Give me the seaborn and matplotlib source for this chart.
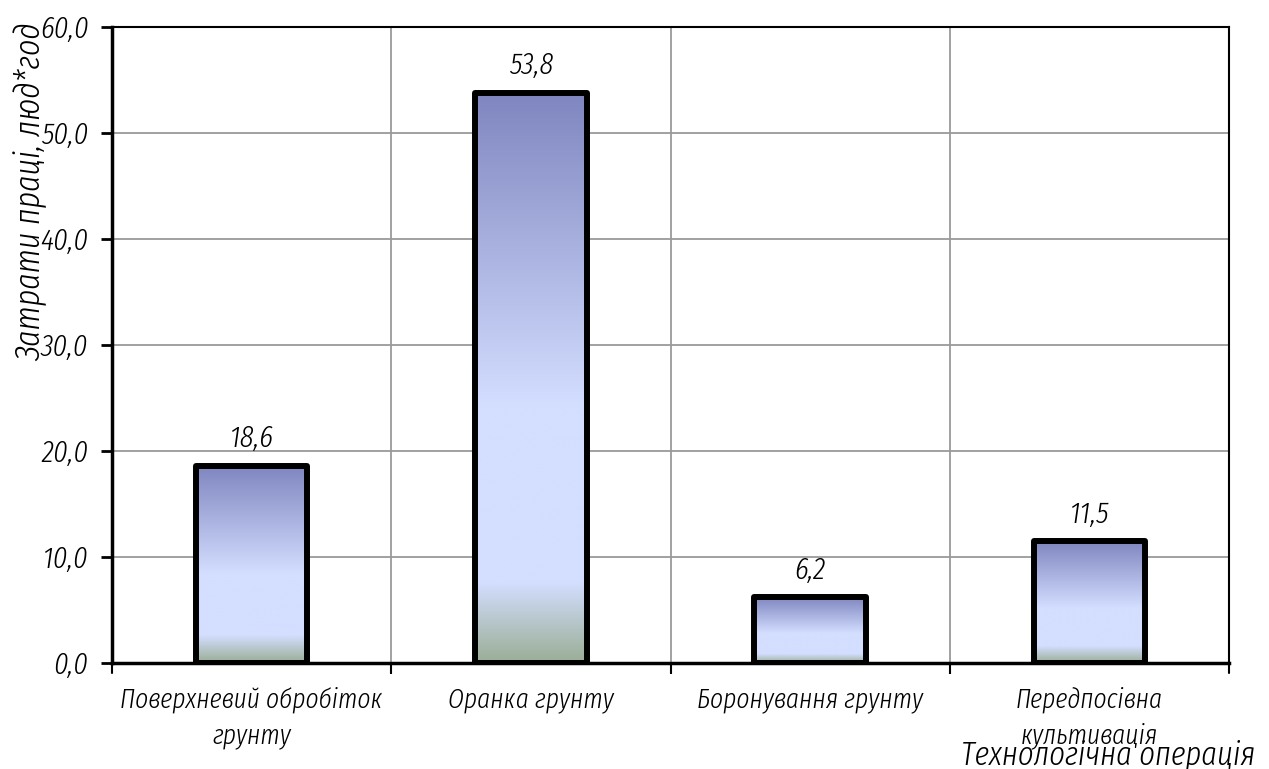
import numpy as np
import pandas as pd
import matplotlib
matplotlib.use("Agg")
import matplotlib.pyplot as plt
from matplotlib.colors import LinearSegmentedColormap
from matplotlib.ticker import FixedLocator
import seaborn as sns

# Labour costs per technological operation
operations = ["Поверхневий обробіток\nгрунту", "Оранка грунту",
              "Боронування грунту", "Передпосівна\nкультивація"]
labour = [18.6, 53.8, 6.2, 11.5]
value_labels = ["18,6", "53,8", "6,2", "11,5"]
y_ticks = [0, 10, 20, 30, 40, 50, 60]
y_tick_labels = ["0,0", "10,0", "20,0", "30,0", "40,0", "50,0", "60,0"]

sns.set_theme(style="white")
FONT = ["Fira Sans Extra Condensed", "DejaVu Sans"]
plt.rcParams["font.family"] = FONT
plt.rcParams["font.style"] = "italic"
plt.rcParams["font.weight"] = 300
plt.rcParams["text.color"] = "black"
plt.rcParams["xtick.color"] = "black"
plt.rcParams["ytick.color"] = "black"
txt_kw = dict(fontsize=22, fontstyle="italic", fontweight=300, family=FONT,
              color="black")

df = pd.DataFrame({"op": operations, "labour": labour})

fig = plt.figure(figsize=(12.69, 7.69), dpi=100)
ax = fig.add_axes([112 / 1269, 1 - 663 / 769, (1229 - 112) / 1269, (663 - 27) / 769])

sns.barplot(data=df, x="op", y="labour", ax=ax, width=0.4,
            color="#d4deff", edgecolor="black", linewidth=4.3, zorder=3)

# vertical gradient fill inside each bar
grad = LinearSegmentedColormap.from_list(
    "bar_grad",
    [(0.0, "#7f86c0"), (0.55, "#d4deff"), (0.86, "#d4deff"), (1.0, "#9aae96")])
gimg = np.linspace(0, 1, 256).reshape(-1, 1)
for patch in ax.patches:
    x0, y0 = patch.get_x(), patch.get_y()
    w, h = patch.get_width(), patch.get_height()
    im = ax.imshow(gimg, cmap=grad, aspect="auto", origin="upper",
                   extent=[x0, x0 + w, y0, y0 + h], zorder=2.5,
                   interpolation="bilinear")
    im.set_clip_path(patch)
    patch.set_facecolor("none")
    patch.set_joinstyle("round")
ax.set_xlim(-0.5, 3.5)
ax.set_ylim(0, 60)

# value labels
for i, (v, txt) in enumerate(zip(labour, value_labels)):
    ax.annotate(txt, (i, v), xytext=(0, 9), textcoords="offset points",
                ha="center", va="bottom", zorder=5, **txt_kw)

# grid
ax.yaxis.set_major_locator(FixedLocator(y_ticks))
ax.set_yticklabels(y_tick_labels, **txt_kw)
ax.xaxis.set_minor_locator(FixedLocator([0.5, 1.5, 2.5]))
ax.grid(axis="y", which="major", color="#9a9a9a", linewidth=1.3, zorder=0)
ax.grid(axis="x", which="minor", color="#9a9a9a", linewidth=1.3, zorder=0)
ax.grid(axis="x", which="major", visible=False)
ax.set_axisbelow(True)

ax.tick_params(axis="y", which="major", length=8, width=2, direction="out",
               color="black", pad=9, left=True)
ax.tick_params(axis="x", which="major", length=0, pad=17)
ax.tick_params(axis="x", which="minor", length=8, width=1.5, direction="out",
               color="black", bottom=True)
ax.set_xticks([0, 1, 2, 3])
ax.set_xticklabels(operations, linespacing=1.4, va="top",
                   **{**txt_kw, "fontsize": 20})

for side in ["top", "right"]:
    ax.spines[side].set_visible(True)
    ax.spines[side].set_color("black")
    ax.spines[side].set_linewidth(1.5)
ax.spines["left"].set_color("black")
ax.spines["left"].set_linewidth(2.5)
ax.spines["bottom"].set_color("black")
ax.spines["bottom"].set_linewidth(2.5)

# edge ticks at the plot boundaries on the x axis
for xb in [-0.5, 3.5]:
    ax.plot([xb, xb], [0, -0.9], color="black", lw=1.5, clip_on=False, zorder=6)

ax.set_xlabel("")
ax.set_ylabel("")
fig.text(30 / 1269, 1 - 192 / 769, "Затрати праці, люд*год", rotation=90,
         ha="center", va="center", **{**txt_kw, "fontsize": 25})
fig.text(1255 / 1269, 1 - 755 / 769, "Технологічна операція", ha="right",
         va="center", **{**txt_kw, "fontsize": 24})

fig.savefig("out.png", dpi=100)
